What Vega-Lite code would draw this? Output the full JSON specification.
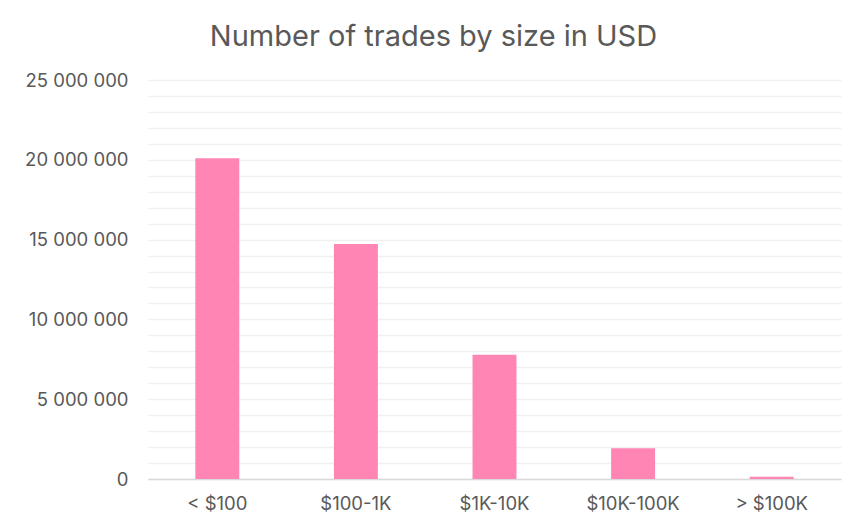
{
  "$schema": "https://vega.github.io/schema/vega-lite/v6.json",
  "autosize": {"type": "none"},
  "padding": {"left": 148, "top": 80, "right": 25, "bottom": 52},
  "width": 693,
  "height": 399,
  "background": "#ffffff",
  "title": {
    "text": "Number of trades by size in USD",
    "anchor": "middle",
    "dx": -61,
    "offset": 19,
    "font": "Inter",
    "fontSize": 29,
    "fontWeight": "normal",
    "color": "#595959"
  },
  "data": {
    "values": [
      {"size": "< $100", "trades": 20100000},
      {"size": "$100-1K", "trades": 14730000},
      {"size": "$1K-10K", "trades": 7790000},
      {"size": "$10K-100K", "trades": 1920000},
      {"size": "> $100K", "trades": 140000}
    ]
  },
  "mark": {"type": "bar", "color": "#FF85B5", "width": {"band": 0.317}},
  "encoding": {
    "x": {
      "field": "size",
      "type": "nominal",
      "sort": null,
      "scale": {"paddingInner": 0, "paddingOuter": 0},
      "axis": {
        "title": null,
        "labelAngle": 0,
        "ticks": false,
        "domainColor": "#d9d9d9",
        "domainWidth": 1.5,
        "labelPadding": 15,
        "labelFont": "Inter",
        "labelFontSize": 18.5,
        "labelColor": "#595959",
        "grid": false
      }
    },
    "y": {
      "field": "trades",
      "type": "quantitative",
      "scale": {"domain": [0, 25000000], "nice": false},
      "axis": {
        "title": null,
        "values": [0, 1000000, 2000000, 3000000, 4000000, 5000000, 6000000, 7000000, 8000000, 9000000, 10000000, 11000000, 12000000, 13000000, 14000000, 15000000, 16000000, 17000000, 18000000, 19000000, 20000000, 21000000, 22000000, 23000000, 24000000, 25000000],
        "labelExpr": "datum.value % 5000000 == 0 ? replace(format(datum.value, ','), /,/g, ' ') : ''",
        "labelOverlap": false,
        "ticks": false,
        "domain": false,
        "grid": true,
        "gridColor": "#f0f0f0",
        "gridWidth": 1.5,
        "labelPadding": 20,
        "labelFont": "Inter",
        "labelFontSize": 18.5,
        "labelColor": "#595959"
      }
    }
  },
  "config": {"view": {"stroke": null}}
}
